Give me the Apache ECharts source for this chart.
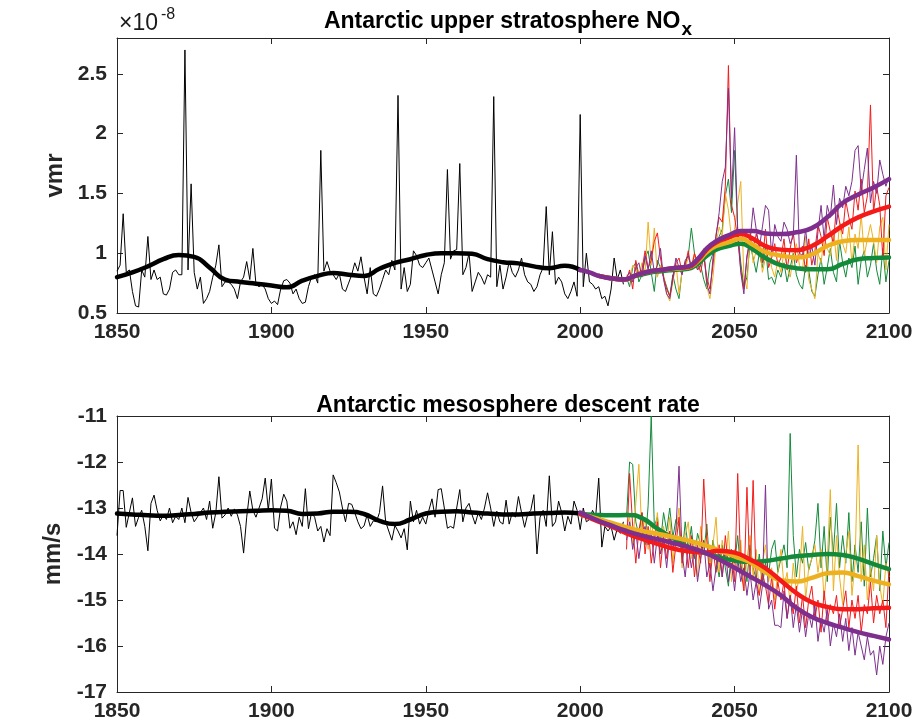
<!DOCTYPE html>
<html>
<head>
<meta charset="utf-8">
<script src="https://cdn.jsdelivr.net/npm/echarts@6/dist/echarts.min.js"></script>
<style>
  html, body { margin: 0; padding: 0; background: #ffffff; }
  #chart { width: 919px; height: 726px; }
</style>
</head>
<body>
<div id="chart"></div>
<script>
// ---- data ----
const histStart = 1850;   // historical run, yearly
const scenStart = 2015;   // scenario runs, yearly

// upper stratosphere NOx, x1e-8 vmr
const noxHist = [
  0.85, 0.90, 1.33, 0.84, 0.86, 0.68, 0.56, 0.55, 0.86, 0.80,
  1.14, 0.78, 0.86, 0.78, 0.80, 0.66, 0.65, 0.70, 0.84, 0.86,
  0.82, 0.82, 2.70, 0.86, 1.58, 0.84, 0.70, 0.80, 0.58, 0.62,
  0.68, 0.80, 0.90, 1.07, 0.72, 0.76, 0.76, 0.74, 0.70, 0.62,
  0.76, 0.80, 0.93, 0.78, 1.04, 0.74, 0.72, 0.74, 0.70, 0.62,
  0.58, 0.60, 0.57, 0.70, 0.77, 0.78, 0.75, 0.66, 0.70, 0.62,
  0.58, 0.59, 0.72, 0.80, 0.82, 0.75, 1.86, 0.85, 0.93, 0.85,
  0.82, 0.78, 0.83, 0.70, 0.68, 0.75, 0.82, 0.92, 0.85, 0.97,
  0.80, 0.66, 0.88, 0.66, 0.64, 0.70, 0.78, 0.86, 0.82, 0.94,
  0.86, 2.32, 0.70, 0.88, 0.68, 0.74, 1.02, 0.98, 0.90, 0.88,
  0.92, 0.96, 0.86, 0.76, 0.66, 0.82, 0.92, 1.70, 0.95, 1.02,
  1.03, 1.75, 0.82, 0.88, 1.00, 0.68, 0.76, 0.84, 0.80, 0.74,
  0.82, 0.80, 2.31, 0.72, 0.90, 0.70, 0.80, 0.93, 0.84, 0.80,
  0.86, 0.96, 0.82, 0.76, 0.74, 0.68, 0.72, 0.82, 0.88, 1.39,
  0.82, 1.18, 0.74, 0.80, 0.76, 0.66, 0.62, 0.68, 0.76, 0.64,
  2.16, 0.72, 1.00, 0.76, 0.74, 0.70, 0.72, 0.62, 0.64, 0.56,
  0.70, 0.96, 0.78, 0.86, 0.74
];
const noxGreen = [
  0.80, 0.72, 0.88, 0.92, 0.76, 0.82, 0.96, 1.02, 0.84, 0.68,
  0.94, 0.88, 0.80, 0.72, 0.64, 0.82, 0.70, 0.62, 0.86, 0.92,
  0.98, 1.21, 1.00, 0.86, 0.90, 0.78, 0.70, 0.92, 1.00, 1.06,
  1.14, 1.20, 1.48, 1.62, 1.34, 1.86, 1.18, 0.92, 0.72, 0.80,
  1.08, 0.96, 0.84, 1.00, 0.88, 1.06, 0.78, 0.80, 0.74, 0.86,
  0.80, 0.92, 0.76, 0.88, 1.00, 0.82, 0.74, 0.70, 0.90, 0.86,
  0.68, 0.64, 0.82, 0.96, 0.74, 0.88, 1.04, 0.84, 0.76, 1.10,
  0.92, 0.80, 0.96, 0.88, 1.06, 0.74, 0.94, 1.02, 0.80, 0.90,
  1.08, 0.86, 0.74, 1.04, 0.76, 0.94
];
const noxYellow = [
  0.82, 0.78, 0.90, 0.86, 0.80, 0.92, 0.84, 1.26, 0.90, 1.21,
  0.80, 0.90, 0.82, 0.66, 0.60, 0.76, 0.92, 0.66, 0.84, 0.88,
  0.96, 0.90, 1.00, 0.86, 0.92, 1.04, 0.72, 0.62, 0.80, 1.08,
  1.22, 1.14, 1.50, 1.36, 1.12, 1.20, 1.42, 1.60, 0.80, 0.70,
  1.20, 0.92, 1.02, 1.10, 0.84, 0.96, 1.06, 0.88, 0.80, 0.94,
  0.84, 1.02, 0.88, 0.80, 0.96, 1.08, 0.90, 0.86, 1.14, 0.78,
  0.70, 0.62, 1.00, 0.92, 1.14, 1.04, 0.98, 1.20, 0.94, 1.26,
  1.08, 1.00, 1.22, 0.92, 1.16, 1.04, 1.32, 0.98, 1.12, 1.24,
  1.10, 0.92, 1.22, 1.30, 0.86, 1.24
];
const noxRed = [
  0.78, 0.86, 0.70, 0.94, 0.82, 0.86, 1.02, 0.88, 0.94, 1.10,
  1.17, 0.96, 0.80, 0.70, 0.64, 0.78, 0.92, 0.96, 0.84, 0.90,
  1.02, 0.86, 1.00, 0.92, 0.84, 0.98, 0.80, 0.70, 0.90, 1.16,
  1.30, 1.26, 1.56, 2.57, 1.40, 1.30, 1.12, 0.86, 0.70, 0.96,
  1.14, 1.02, 1.16, 1.08, 0.92, 1.20, 0.88, 0.96, 1.08, 0.90,
  0.96, 1.12, 0.86, 1.04, 1.18, 0.92, 1.00, 1.06, 0.84, 1.12,
  0.90, 1.02, 1.24, 1.14, 0.98, 1.30, 1.18, 1.08, 1.40, 1.26,
  1.16, 1.44, 1.30, 1.20, 1.52, 1.36, 1.62, 1.34, 1.48, 2.24,
  1.34, 1.56, 1.40, 0.96, 1.48, 1.55
];
const noxPurple = [
  0.80, 0.84, 0.76, 0.88, 0.92, 0.80, 0.98, 0.86, 1.02, 0.84,
  0.90, 1.04, 0.78, 0.66, 0.62, 0.80, 0.96, 0.88, 0.82, 0.94,
  0.98, 0.88, 0.94, 0.86, 0.90, 1.02, 0.74, 0.66, 0.96, 1.14,
  1.34, 1.60, 1.72, 2.38, 1.46, 2.05, 1.20, 0.84, 0.66, 0.98,
  1.10, 1.38, 1.20, 1.04, 1.22, 1.40, 1.36, 0.98, 1.24, 1.14,
  1.10, 1.26, 1.20, 1.08, 1.14, 1.82, 1.00, 0.98, 1.20, 0.96,
  1.06, 0.90, 1.18, 1.40, 1.12, 1.40, 1.30, 1.57, 1.24, 1.46,
  1.38, 1.56, 1.48, 1.60, 1.86, 1.90, 1.52, 1.70, 1.88, 1.42,
  1.60, 1.50, 1.78, 1.66, 1.56, 1.64
];

// smoothed NOx curves
const noxSmoothYears = [
  1850, 1855, 1860, 1865, 1870, 1875, 1880, 1885, 1890, 1895, 1900,
  1905, 1910, 1915, 1920, 1925, 1930, 1935, 1940, 1945, 1950,
  1955, 1960, 1965, 1970, 1975, 1980, 1985, 1990, 1995, 2000
];
const noxSmooth = [
  0.80, 0.84, 0.89, 0.95, 0.985, 0.97, 0.88, 0.78, 0.76, 0.745, 0.73,
  0.715, 0.77, 0.81, 0.835, 0.82, 0.81, 0.87, 0.92, 0.95, 0.985,
  1.00, 1.00, 0.995, 0.95, 0.925, 0.915, 0.89, 0.875, 0.895, 0.86
];
const noxPurpleSmoothYears = [
  2000, 2003, 2006, 2010, 2014, 2018, 2022, 2026, 2030, 2035, 2038, 2041, 2044,
  2048, 2052, 2056, 2060, 2065, 2070, 2075, 2080, 2085, 2090, 2095, 2100
];
const noxPurpleSmooth = [
  0.86, 0.84, 0.81, 0.79, 0.78, 0.815, 0.845, 0.86, 0.875, 0.89, 0.95, 1.04, 1.10,
  1.15, 1.185, 1.185, 1.165, 1.16, 1.175, 1.21, 1.30, 1.42, 1.49, 1.55, 1.62
];
const noxScenSmoothYears = [
  2006, 2010, 2014, 2018, 2022, 2026, 2030, 2035, 2038, 2041, 2044, 2048,
  2052, 2056, 2060, 2065, 2070, 2075, 2080, 2085, 2090, 2095, 2100
];
const noxRedSmooth = [
  0.81, 0.79, 0.78, 0.815, 0.845, 0.86, 0.875, 0.885, 0.94, 1.03, 1.09, 1.13,
  1.16, 1.12, 1.06, 1.03, 1.025, 1.06, 1.14, 1.23, 1.30, 1.35, 1.39
];
const noxYellowSmooth = [
  0.81, 0.79, 0.78, 0.815, 0.845, 0.86, 0.87, 0.88, 0.93, 1.01, 1.06, 1.09,
  1.12, 1.07, 1.01, 0.98, 0.965, 0.99, 1.06, 1.10, 1.11, 1.11, 1.11
];
const noxGreenSmooth = [
  0.81, 0.79, 0.78, 0.81, 0.835, 0.85, 0.86, 0.87, 0.91, 0.98, 1.03, 1.06,
  1.08, 1.03, 0.96, 0.90, 0.875, 0.865, 0.865, 0.91, 0.95, 0.96, 0.965
];

// mesosphere descent rate, mm/s
const descHist = [
  -13.60, -12.62, -12.62, -13.42, -13.10, -12.78, -13.40, -13.20, -13.05, -13.40,
  -13.93, -12.90, -12.72, -13.05, -13.28, -13.15, -13.25, -13.00, -13.32, -13.18,
  -13.25, -13.00, -13.32, -12.77, -13.10, -13.30, -13.20, -13.10, -13.00, -13.25,
  -12.85, -13.44, -13.10, -12.32, -13.22, -13.15, -13.00, -13.18, -13.02, -13.15,
  -13.40, -13.98, -13.20, -12.63, -13.05, -13.20, -13.00, -12.80, -12.35, -13.05,
  -12.37, -13.44, -13.50, -12.98, -12.70, -12.85, -13.44, -13.30, -13.58, -13.20,
  -13.40, -12.58, -13.45, -13.10, -13.20, -13.50, -13.40, -13.74, -13.45, -13.60,
  -12.28, -12.45, -12.65, -13.00, -13.30, -12.90, -12.92, -13.10, -13.30, -13.45,
  -13.39, -13.15, -13.40, -13.28, -13.30, -13.10, -12.52, -13.30, -13.50, -13.70,
  -13.38, -13.50, -13.65, -13.45, -13.91, -12.85, -13.30, -13.05, -13.35, -13.20,
  -13.35, -13.05, -12.80, -13.20, -12.60, -12.58, -13.00, -13.44, -13.40, -13.44,
  -13.00, -12.60, -13.30, -13.00, -12.90, -13.15, -13.35, -13.10, -13.25, -13.00,
  -12.67, -13.00, -13.40, -13.07, -13.30, -13.35, -12.83, -13.35, -13.10, -13.20,
  -12.75, -13.10, -13.42, -13.13, -13.05, -12.71, -14.00, -13.20, -13.05, -13.40,
  -12.30, -13.40, -13.30, -12.85, -13.10, -13.50, -13.18, -13.35, -12.85, -13.05,
  -13.47, -13.00, -13.30, -13.25, -13.05, -13.20, -12.35, -13.85, -13.40, -13.50,
  -13.40, -13.70, -13.45, -13.55, -13.30
];
const descGreen = [
  -13.20, -12.00, -12.05, -13.30, -13.60, -13.10, -13.80, -12.95, -11.00, -13.40,
  -13.20, -13.75, -13.10, -13.50, -13.00, -13.65, -13.25, -13.40, -14.05, -13.30,
  -13.90, -13.40, -14.10, -13.55, -13.80, -14.00, -13.35, -14.30, -13.70, -14.10,
  -14.50, -13.80, -14.30, -14.70, -13.90, -14.20, -13.60, -14.40, -14.00, -14.60,
  -13.80, -14.30, -14.55, -14.00, -14.70, -14.20, -14.45, -13.90, -13.70, -14.40,
  -14.10, -13.80, -14.30, -11.38, -13.60, -14.50, -13.90, -14.20, -13.75, -14.35,
  -14.10, -13.70, -12.90, -14.30, -13.40, -14.60, -13.20, -14.00, -12.90, -14.30,
  -13.60, -14.20, -13.10, -14.60, -13.80, -14.40, -13.30, -14.70, -13.00, -14.50,
  -14.10, -13.60, -14.80, -13.50, -14.30, -13.75
];
const descYellow = [
  -13.40, -13.20, -13.80, -12.90, -12.05, -13.60, -13.20, -13.90, -13.30, -13.70,
  -13.10, -14.00, -13.40, -13.80, -13.20, -14.20, -13.50, -13.00, -14.30, -13.60,
  -13.30, -14.10, -13.70, -14.50, -13.40, -13.90, -13.60, -14.30, -13.80, -13.20,
  -14.40, -13.70, -14.20, -13.50, -14.60, -13.90, -14.30, -13.70, -14.80, -14.10,
  -13.60, -14.50, -13.90, -14.90, -14.20, -13.80, -14.60, -14.30, -15.00, -14.40,
  -13.90, -14.70, -14.40, -15.10, -14.20, -14.80, -14.50, -13.40, -15.00, -14.30,
  -14.10, -13.80, -14.40, -13.90, -15.00, -14.20, -12.60, -14.80, -13.60, -14.50,
  -15.10, -14.00, -13.50, -14.90, -14.20, -11.63, -14.60, -13.80, -15.00, -14.30,
  -14.80, -13.60, -14.70, -15.10, -14.20, -14.50
];
const descRed = [
  -13.90, -12.25, -13.40, -14.20, -13.50, -13.10, -14.00, -13.40, -14.20, -13.70,
  -13.30, -14.30, -13.60, -14.10, -13.50, -14.40, -13.80, -13.20, -14.20, -13.70,
  -14.30, -13.60, -14.50, -13.80, -14.20, -12.37, -13.70, -14.60, -13.90, -14.40,
  -13.80, -14.50, -13.60, -14.30, -14.00, -14.60, -12.25, -14.30, -14.80, -12.55,
  -14.50, -12.40, -14.60, -14.90, -14.40, -14.70, -15.10, -14.50, -15.20, -14.60,
  -15.00, -14.60, -15.40, -14.90, -15.30, -14.70, -15.50, -14.90, -15.60, -15.00,
  -14.70, -15.40, -15.00, -15.70, -14.80, -15.50, -15.10, -15.30, -14.90, -15.60,
  -15.20, -14.80, -15.60, -15.00, -15.40, -14.90, -15.70, -15.10, -15.30, -14.60,
  -15.50, -14.90, -15.30, -15.00, -15.60, -14.30
];
const descPurple = [
  -13.70, -13.30, -13.90, -13.50, -14.10, -13.60, -13.40, -13.80, -13.50, -14.20,
  -13.60, -14.00, -13.70, -14.30, -13.60, -13.90, -13.50, -12.09, -14.00, -14.50,
  -13.80, -14.30, -13.90, -14.60, -14.10, -13.70, -14.50, -14.20, -14.80, -14.30,
  -14.00, -14.50, -13.90, -14.60, -14.20, -14.80, -14.10, -14.60, -14.30, -14.90,
  -14.40, -15.00, -14.60, -15.20, -14.70, -12.50, -15.20, -15.00, -15.55, -15.55,
  -15.60, -14.80, -15.40, -14.90, -15.60, -15.10, -15.70, -15.20, -15.80, -15.30,
  -15.60, -15.10, -15.90, -15.40, -15.70, -15.20, -16.00, -15.50, -15.80, -15.30,
  -15.90, -15.40, -16.10, -15.60, -16.20, -15.70, -16.00, -16.30, -15.80, -16.20,
  -16.10, -16.63, -16.00, -16.40, -15.80, -15.50
];

// smoothed descent-rate curves
const descSmoothYears = noxSmoothYears;
const descSmooth = [
  -13.12, -13.14, -13.16, -13.17, -13.15, -13.13, -13.10, -13.08, -13.07, -13.06, -13.05,
  -13.06, -13.13, -13.12, -13.08, -13.08, -13.13, -13.28, -13.35, -13.25, -13.12,
  -13.08, -13.07, -13.10, -13.12, -13.14, -13.14, -13.12, -13.11, -13.10, -13.12
];
const descScenSmoothYears = [
  2000, 2005, 2010, 2015, 2020, 2025, 2030, 2035, 2040, 2045, 2050,
  2055, 2060, 2065, 2070, 2075, 2080, 2085, 2090, 2095, 2100
];
const descGreenSmooth = [
  -13.13, -13.15, -13.16, -13.15, -13.22, -13.45, -13.65, -13.85, -13.97, -14.07, -14.14,
  -14.17, -14.15, -14.10, -14.05, -14.02, -14.00, -14.02, -14.10, -14.22, -14.33
];
const descYellowSmooth = [
  -13.13, -13.22, -13.32, -13.42, -13.50, -13.56, -13.63, -13.71, -13.80, -13.92, -14.05,
  -14.18, -14.40, -14.57, -14.60, -14.52, -14.42, -14.40, -14.48, -14.58, -14.66
];
const descRedSmooth = [
  -13.13, -13.27, -13.40, -13.55, -13.67, -13.78, -13.88, -13.94, -13.97, -13.93, -13.97,
  -14.12, -14.31, -14.58, -14.85, -15.05, -15.15, -15.20, -15.20, -15.18, -15.17
];
const descPurpleSmooth = [
  -13.10, -13.25, -13.38, -13.50, -13.60, -13.68, -13.76, -13.85, -13.96, -14.12, -14.30,
  -14.49, -14.68, -14.90, -15.17, -15.37, -15.50, -15.60, -15.70, -15.78, -15.86
];

// ---- chart ----
const FONT = '"Liberation Sans", Arial, Helvetica, sans-serif';
const AXIS = '#262626';
const C_GREEN = '#138a3a';
const C_YELLOW = '#edb120';
const C_RED = '#f41a1a';
const C_PURPLE = '#7e2f8e';

function yearly(start, vals) {
  return vals.map((v, i) => [start + i, v]);
}
function paired(years, vals) {
  return years.map((y, i) => [y, vals[i]]);
}
function thin(data, color, g) {
  return {
    type: 'line', data: data, xAxisIndex: g, yAxisIndex: g,
    showSymbol: false, symbol: 'none', silent: true,
    lineStyle: { width: 1, color: color }
  };
}
function thick(data, color, g) {
  return {
    type: 'line', data: data, xAxisIndex: g, yAxisIndex: g,
    showSymbol: false, symbol: 'none', silent: true,
    smooth: true,
    lineStyle: { width: 4.5, color: color, cap: 'round', join: 'round' }
  };
}

const labelStyle = { fontFamily: FONT, fontSize: 21, fontWeight: 'bold', color: AXIS };
const lineStyle = { lineStyle: { color: AXIS, width: 1 } };

function xAx(g, pos, labels) {
  return {
    type: 'value', gridIndex: g, position: pos, min: 1850, max: 2100, interval: 50,
    axisLine: Object.assign({ show: true, onZero: false }, lineStyle),
    axisTick: { show: true, inside: true, length: 6, lineStyle: { color: AXIS } },
    axisLabel: labels ? Object.assign({ margin: 9, formatter: v => String(v) }, labelStyle) : { show: false },
    splitLine: { show: false }
  };
}
function yAx(g, pos, min, max, labels, name, fmt) {
  const ax = {
    type: 'value', gridIndex: g, position: pos, min: min, max: max, interval: g === 0 ? 0.5 : 1,
    axisLine: Object.assign({ show: true, onZero: false }, lineStyle),
    axisTick: { show: true, inside: true, length: 6, lineStyle: { color: AXIS } },
    axisLabel: labels ? Object.assign({ margin: 10, formatter: fmt }, labelStyle) : { show: false },
    splitLine: { show: false }
  };
  if (name) {
    ax.name = name;
    ax.nameLocation = 'middle';
    ax.nameGap = 50;
    ax.nameTextStyle = { fontFamily: FONT, fontSize: 24, fontWeight: 'bold', color: AXIS };
  }
  return ax;
}

const chart = echarts.init(document.getElementById('chart'), null, { renderer: 'canvas' });
chart.setOption({
  animation: false,
  backgroundColor: '#ffffff',
  title: [
    {
      text: '{a|Antarctic upper stratosphere NO}{b|x}',
      left: 503, top: -1, textAlign: 'center',
      textStyle: {
        rich: {
          a: { fontFamily: FONT, fontSize: 23, fontWeight: 'bold', color: '#000000' },
          b: { fontFamily: FONT, fontSize: 19, fontWeight: 'bold', color: '#000000', padding: [16, 0, 0, 1] }
        }
      }
    },
    {
      text: 'Antarctic mesosphere descent rate',
      left: 503, top: 389, textAlign: 'center',
      textStyle: { fontFamily: FONT, fontSize: 23, fontWeight: 'bold', color: '#000000' }
    }
  ],
  graphic: [
    { type: 'text', left: 119, top: 12, style: { text: '×10', font: '23px ' + FONT, fill: '#1a1a1a' } },
    { type: 'text', left: 161, top: 7, style: { text: '-8', font: '16px ' + FONT, fill: '#1a1a1a' } }
  ],
  grid: [
    { left: 117, top: 38, width: 772, height: 275 },
    { left: 117, top: 416, width: 772, height: 276 }
  ],
  xAxis: [xAx(0, 'bottom', true), xAx(1, 'bottom', true), xAx(0, 'top', false), xAx(1, 'top', false)],
  yAxis: [
    yAx(0, 'left', 0.5, 2.8, true, 'vmr', v => (v > 2.6 ? '' : String(v))),
    yAx(1, 'left', -17, -11, true, 'mm/s', v => String(v)),
    yAx(0, 'right', 0.5, 2.8, false),
    yAx(1, 'right', -17, -11, false)
  ],
  series: [
    thin(yearly(histStart, noxHist), '#000000', 0),
    thick(paired(noxSmoothYears, noxSmooth), '#000000', 0),
    thin(yearly(scenStart, noxGreen), C_GREEN, 0),
    thin(yearly(scenStart, noxYellow), C_YELLOW, 0),
    thin(yearly(scenStart, noxRed), C_RED, 0),
    thin(yearly(scenStart, noxPurple), C_PURPLE, 0),
    thick(paired(noxScenSmoothYears, noxGreenSmooth), C_GREEN, 0),
    thick(paired(noxScenSmoothYears, noxYellowSmooth), C_YELLOW, 0),
    thick(paired(noxScenSmoothYears, noxRedSmooth), C_RED, 0),
    thick(paired(noxPurpleSmoothYears, noxPurpleSmooth), C_PURPLE, 0),

    thin(yearly(histStart, descHist), '#000000', 1),
    thick(paired(descSmoothYears, descSmooth), '#000000', 1),
    thin(yearly(scenStart, descGreen), C_GREEN, 1),
    thin(yearly(scenStart, descYellow), C_YELLOW, 1),
    thin(yearly(scenStart, descRed), C_RED, 1),
    thin(yearly(scenStart, descPurple), C_PURPLE, 1),
    thick(paired(descScenSmoothYears, descGreenSmooth), C_GREEN, 1),
    thick(paired(descScenSmoothYears, descYellowSmooth), C_YELLOW, 1),
    thick(paired(descScenSmoothYears, descRedSmooth), C_RED, 1),
    thick(paired(descScenSmoothYears, descPurpleSmooth), C_PURPLE, 1)
  ]
});
</script>
</body>
</html>
